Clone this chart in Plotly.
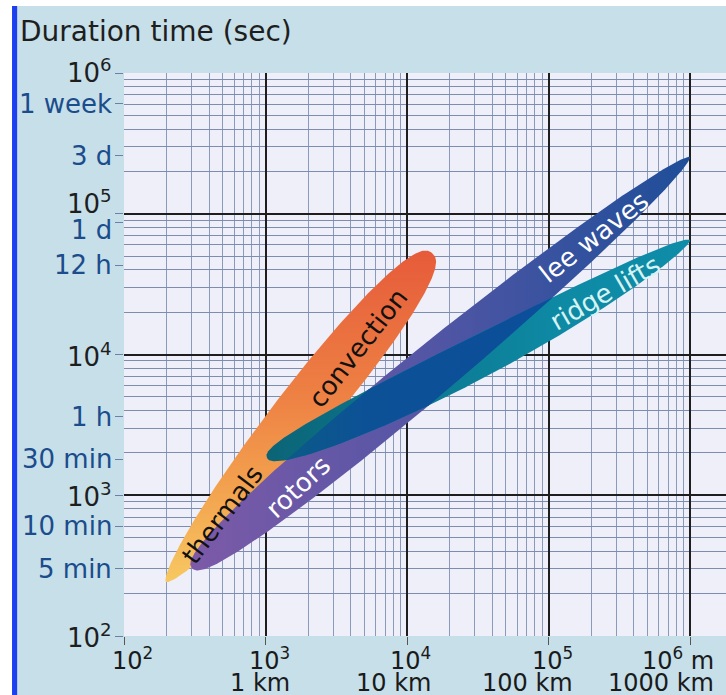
import numpy as np
import plotly.graph_objects as go

# ---- data -------------------------------------------------------------
# Each band runs from a start point to an end point (length in m, duration in s)
band_names = ["thermals / convection", "rotors / lee waves", "ridge lifts"]
band_start_m = [198, 302, 1025]
band_start_s = [242, 304, 1840]
band_end_m = [15000, 1.0e6, 1.0e6]
band_end_s = [52600, 253000, 65100]
band_thickness_dec = [0.40, 0.36, 0.30]     # widest extent, in decades
band_peak_pos = [0.60, 0.40, 0.42]          # where along the band it is widest
band_bend_dec = [0.0, 0.0, 0.05]            # sag of the centre line

# Labels written inside the bands
label_text = ["thermals", "convection", "rotors", "lee waves", "ridge lifts"]
label_m = [493, 4505, 1697, 209700, 250700]
label_s = [724, 11120, 1145, 68340, 27350]
label_angle = [-53, -52, -43, -38, -30]
label_color = ["#111111", "#111111", "#ffffff", "#ffffff", "#d6f2f2"]

# Axis ticks
decades = [100, 1000, 10000, 100000, 1000000]
decade_text = ["10<sup>2</sup>", "10<sup>3</sup>", "10<sup>4</sup>",
               "10<sup>5</sup>", "10<sup>6</sup>"]
x_top_text = ["10<sup>2</sup>", "10<sup>3</sup>", "10<sup>4</sup>",
              "10<sup>5</sup>", "10<sup>6</sup> m"]
x_bottom_text = ["", "1 km", "10 km", "100 km", "1000 km"]
time_vals = [604800, 259200, 86400, 43200, 3600, 1800, 600, 300]
time_text = ["1 week", "3 d", "1 d", "12 h", "1 h", "30 min", "10 min", "5 min"]
minor_vals = [k * 10.0 ** n for n in range(2, 7) for k in range(2, 10)]
separator_vals = [200, 2000, 20000, 200000]

FONT = "DejaVu Sans"


def band_outline(i, n=220):
    """Outline of a tapered band in log10 space."""
    p0 = np.array([np.log10(band_start_m[i]), np.log10(band_start_s[i])])
    p1 = np.array([np.log10(band_end_m[i]), np.log10(band_end_s[i])])
    d = p1 - p0
    u = d / np.linalg.norm(d)
    up = np.array([-u[1], u[0]])           # normal on the upper-left side
    t = 0.5 - 0.5 * np.cos(np.linspace(0, np.pi, n))
    p = band_peak_pos[i]
    g = (t ** p) * ((1 - t) ** (1 - p)) / (p ** p * (1 - p) ** (1 - p))
    h = 0.5 * band_thickness_dec[i] * g
    centre = p0[None, :] + t[:, None] * d[None, :] \
        - (band_bend_dec[i] * 4 * t * (1 - t))[:, None] * up[None, :]
    upper = centre + h[:, None] * up[None, :]
    lower = centre - h[:, None] * up[None, :]
    return np.vstack([upper, lower[::-1]])


def clip_convex(subject, clipper):
    """Sutherland-Hodgman clipping of a polygon by a convex polygon."""
    area = 0.5 * np.sum(clipper[:, 0] * np.roll(clipper[:, 1], -1)
                        - np.roll(clipper[:, 0], -1) * clipper[:, 1])
    if area < 0:
        clipper = clipper[::-1]

    def inside(q, a, b):
        return (b[0] - a[0]) * (q[1] - a[1]) - (b[1] - a[1]) * (q[0] - a[0]) >= 0

    def cross_pt(s, e, a, b):
        r = e - s
        w = b - a
        den = r[0] * w[1] - r[1] * w[0]
        tt = ((a[0] - s[0]) * w[1] - (a[1] - s[1]) * w[0]) / den
        return s + tt * r

    out = [np.array(q) for q in subject]
    for k in range(len(clipper)):
        a, b = clipper[k - 1], clipper[k]
        inp, out = out, []
        if not inp:
            break
        s = inp[-1]
        for e in inp:
            if inside(e, a, b):
                if not inside(s, a, b):
                    out.append(cross_pt(s, e, a, b))
                out.append(e)
            elif inside(s, a, b):
                out.append(cross_pt(s, e, a, b))
            s = e
    return np.array(out)


fig = go.Figure()


def add_fill(poly, gradient_type, scale, yaxis="y"):
    fig.add_trace(go.Scatter(
        x=10 ** poly[:, 0], y=10 ** poly[:, 1], mode="lines", fill="toself",
        line=dict(width=0, color="rgba(0,0,0,0)"),
        fillgradient=dict(type=gradient_type, colorscale=scale),
        hoverinfo="skip", showlegend=False, yaxis=yaxis))


orange = band_outline(0)
lee = band_outline(1)
ridge = band_outline(2)
overlap = clip_convex(ridge, lee)

add_fill(orange, "vertical",
         [[0, "#f7c862"], [0.25, "#f3a650"], [0.55, "#ee8244"], [1, "#e65b3a"]])
add_fill(lee, "horizontal",
         [[0, "#7d5aa8"], [0.45, "#5556a5"], [0.75, "#36529f"], [1, "#1f4e98"]])
add_fill(ridge, "horizontal",
         [[0, "#0b6476"], [0.35, "#0c7890"], [0.7, "#0e8aa5"], [1, "#0e8ca8"]])
add_fill(overlap, "horizontal",
         [[0, "#0b5a88"], [0.3, "#0c5196"], [1, "#0c4e9a"]])

# invisible point so the secondary (time) axis is drawn
fig.add_trace(go.Scatter(x=[1000], y=[1000], mode="markers",
                         marker=dict(opacity=0), hoverinfo="skip",
                         showlegend=False, yaxis="y2"))

annotations = []
for txt, m, s, ang, col in zip(label_text, label_m, label_s, label_angle, label_color):
    annotations.append(dict(x=np.log10(m), y=np.log10(s), xref="x", yref="y",
                            text=txt, textangle=ang, showarrow=False,
                            font=dict(family=FONT, size=26, color=col)))

# decade labels of the duration axis (10^5 sits just above its line)
for v, txt in zip(decades, decade_text):
    annotations.append(dict(x=0, y=np.log10(v), xref="paper", yref="y",
                            text=txt, showarrow=False, xanchor="right",
                            xshift=-10, yanchor="middle",
                            yshift=12 if v == 100000 else (2 if v == 1000000 else 0),
                            font=dict(family=FONT, size=26, color="#1e1e1e")))

# time labels of the duration axis ("1 d" sits just below its tick)
for v, txt in zip(time_vals, time_text):
    annotations.append(dict(x=0, y=np.log10(v), xref="paper", yref="y",
                            text=txt, showarrow=False, xanchor="right",
                            xshift=-10, yanchor="middle",
                            yshift=-7 if v == 86400 else 0,
                            font=dict(family=FONT, size=26, color="#1b4c8c")))

for v, top, bot in zip(decades, x_top_text, x_bottom_text):
    first = v == decades[0]
    annotations.append(dict(x=np.log10(v), y=0, xref="x", yref="paper",
                            text=top, showarrow=False, borderpad=0,
                            xanchor="center" if first else "right",
                            xshift=8 if first else 25, yanchor="middle", yshift=-23,
                            font=dict(family=FONT, size=24, color="#1a1a1a")))
    if bot:
        annotations.append(dict(x=np.log10(v), y=0, xref="x", yref="paper",
                                text=bot, showarrow=False, borderpad=0,
                                xanchor="right", xshift=25,
                                yanchor="middle", yshift=-47,
                                font=dict(family=FONT, size=24, color="#1a1a1a")))

annotations.append(dict(x=-0.1761, y=1.0746, xref="paper", yref="paper",
                        text="Duration time (sec)", showarrow=False,
                        xanchor="left", yanchor="middle",
                        font=dict(family=FONT, size=28, color="#1e1e1e")))

shapes = []
for v in separator_vals:
    shapes.append(dict(type="line", xref="x", yref="paper",
                       x0=np.log10(v), x1=np.log10(v), y0=0, y1=-0.11,
                       line=dict(color="#3a9e8c", width=1), layer="above"))
# white margin strips and the blue edge bar
shapes += [
    dict(type="rect", xref="paper", yref="paper", x0=-0.21, x1=-0.186,
         y0=-0.11, y1=1.135, fillcolor="#ffffff", line=dict(width=0), layer="above"),
    dict(type="rect", xref="paper", yref="paper", x0=-0.21, x1=1.01,
         y0=1.119, y1=1.135, fillcolor="#ffffff", line=dict(width=0), layer="above"),
    dict(type="rect", xref="paper", yref="paper", x0=-0.186, x1=-0.1775,
         y0=-0.11, y1=1.119, fillcolor="#1c3ff0", line=dict(width=0), layer="above"),
]

fig.update_layout(
    width=726, height=695, autosize=False,
    margin=dict(l=124, r=0, t=73, b=59, pad=0),
    paper_bgcolor="#c6dfe9", plot_bgcolor="#eeeff8",
    font=dict(family=FONT, size=26, color="#1a1a1a"),
    xaxis=dict(type="log", range=[2, 2 + 602 / 141.5], tickvals=decades,
               showticklabels=False, ticks="outside", ticklen=8, tickwidth=1,
               tickcolor="#555555", showgrid=True, gridcolor="#1e1e1e",
               gridwidth=2, zeroline=False, showline=False,
               minor=dict(tickvals=minor_vals, showgrid=True,
                          gridcolor="#8a9abb", gridwidth=1, ticks="")),
    yaxis=dict(type="log", range=[2, 6], tickvals=decades,
               showticklabels=False,
               ticks="outside", ticklen=8, tickwidth=1, tickcolor="#6b7fa8",
               showgrid=True, gridcolor="#1e1e1e", gridwidth=2,
               zeroline=False, showline=False,
               minor=dict(tickvals=minor_vals, showgrid=True,
                          gridcolor="#7d8db0", gridwidth=1, ticks="")),
    yaxis2=dict(type="log", range=[2, 6], overlaying="y", side="left",
                anchor="x", tickvals=time_vals, showticklabels=False,
                ticks="outside", ticklen=8, tickwidth=1, tickcolor="#6b7fa8",
                showgrid=False, zeroline=False, showline=False),
    annotations=annotations, shapes=shapes,
)

fig.write_html("out.html")
